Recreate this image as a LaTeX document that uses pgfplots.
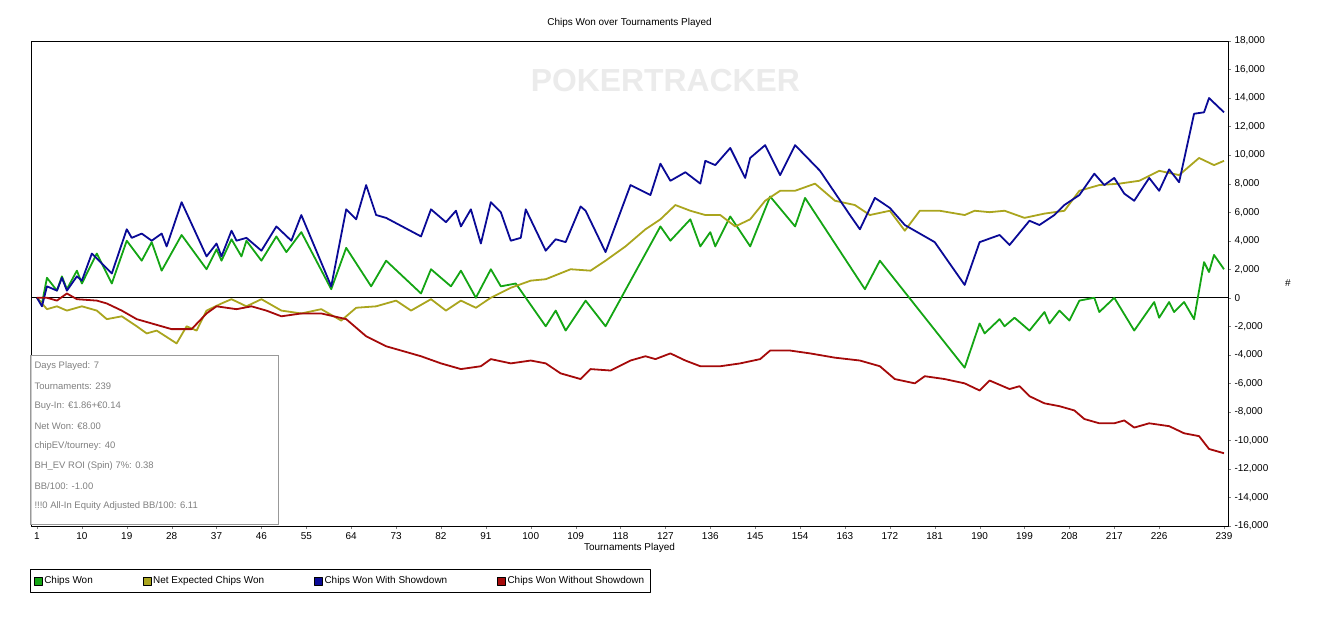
\documentclass[border=0pt]{standalone}
\usepackage{pgfplots}
\pgfplotsset{compat=1.18}
\usepackage{fontspec}
\setmainfont{Liberation Sans}
\definecolor{cgreen}{RGB}{20,165,20}
\definecolor{colive}{RGB}{170,165,30}
\definecolor{cblue}{RGB}{10,10,150}
\definecolor{cred}{RGB}{165,10,10}
\begin{document}
\begin{tikzpicture}
\path[use as bounding box] (-31bp,-91bp) rectangle (1294bp,526bp);
\begin{axis}[
 scale only axis, width=1197bp, height=485bp,
 xmin=-0.2, xmax=239.8, ymin=-16000, ymax=18000,
 xtick={1,10,...,226,239}, ytick={-16000,-14000,...,18000},
 yticklabel pos=right, ytick pos=right, xtick pos=bottom, scaled y ticks=false,
 /pgf/number format/assume math mode=true,
 /pgf/number format/1000 sep={,},
 tick label style={font=\fontsize{10}{12}\selectfont},
 tick align=outside, major tick length=3bp,
 xlabel={Tournaments Played}, xlabel style={font=\fontsize{10}{12}\selectfont, yshift=3bp},
 title={Chips Won over Tournaments Played}, title style={font=\fontsize{10}{12}\selectfont, yshift=4bp},
 legend style={at={(-0.001,-0.089)}, anchor=north west, legend columns=4, draw=black, font=\fontsize{10}{12}\selectfont, inner ysep=5bp, inner xsep=4bp, /tikz/every even column/.append style={column sep=48bp}},
 legend image code/.code={\filldraw[#1, draw=black, line width=0.3bp] (0bp,-4bp) rectangle (8bp,4bp);},
 line join=round,
]
\node[text=black!8, font=\bfseries\fontsize{32}{32}\selectfont] at (axis cs:127,15200) {POKERTRACKER};
\draw[black, line width=0.6bp] (axis cs:-0.2,0) -- (axis cs:239.8,0);
\addplot[cgreen, line width=1.8bp] coordinates {(1,0)(2,-400)(3,1400)(5,500)(6,1500)(7,600)(9,1900)(10,1000)(13,3100)(16,1000)(19,4000)(22,2600)(24,3900)(26,1900)(30,4400)(35,2000)(37,3400)(38,2600)(40,4100)(42,2900)(43,4000)(46,2600)(49,4300)(51,3200)(54,4600)(60,600)(63,3500)(68,800)(71,2600)(78,300)(80,2000)(84,800)(86,1900)(89,0)(92,2000)(94,800)(97,1000)(103,-2000)(105,-900)(107,-2300)(111,-200)(115,-2000)(126,5000)(128,4000)(132,5500)(134,3600)(136,4600)(137,3600)(140,5700)(144,3600)(148,7100)(153,5000)(155,7000)(167,600)(170,2600)(187,-4900)(190,-1800)(191,-2500)(194,-1500)(195,-2000)(197,-1400)(200,-2300)(203,-1000)(204,-1800)(206,-900)(208,-1600)(210,-200)(213,0)(214,-1000)(217,0)(221,-2300)(225,-300)(226,-1400)(228,-300)(229,-1000)(231,-300)(233,-1500)(235,2500)(236,1800)(237,3000)(239,2000)};
\addlegendentry{Chips Won}
\addplot[colive, line width=1.8bp] coordinates {(1,0)(3,-800)(5,-600)(7,-900)(10,-600)(13,-900)(15,-1500)(18,-1300)(21,-2000)(23,-2500)(25,-2300)(29,-3200)(31,-2000)(33,-2300)(35,-900)(38,-400)(40,-100)(43,-600)(46,-100)(50,-900)(54,-1100)(58,-800)(62,-1600)(65,-700)(69,-600)(73,-200)(76,-900)(80,-100)(83,-900)(86,-200)(89,-700)(92,0)(96,700)(100,1200)(103,1300)(108,2000)(112,1900)(115,2600)(119,3600)(123,4800)(126,5500)(129,6500)(132,6100)(135,5800)(138,5800)(141,5000)(144,5500)(147,6800)(150,7500)(153,7500)(157,8000)(161,6800)(165,6500)(168,5800)(172,6100)(175,4700)(178,6100)(182,6100)(187,5800)(189,6100)(192,6000)(195,6100)(199,5600)(203,5900)(207,6100)(210,7500)(214,7900)(218,8000)(222,8200)(226,8900)(230,8600)(234,9800)(237,9300)(239,9600)};
\addlegendentry{Net Expected Chips Won}
\addplot[cblue, line width=1.8bp] coordinates {(1,0)(2,-600)(3,800)(5,500)(6,1400)(7,500)(9,1500)(10,1200)(12,3100)(16,1700)(19,4800)(20,4200)(22,4500)(24,4000)(26,4500)(27,3600)(30,6700)(35,2900)(37,3800)(38,2900)(40,4700)(41,4000)(43,4200)(46,3300)(49,5000)(52,4000)(54,5800)(60,800)(63,6200)(65,5500)(67,7900)(69,5800)(71,5600)(78,4300)(80,6200)(83,5300)(85,6100)(86,5000)(88,6200)(90,3800)(92,6700)(94,6000)(96,4000)(98,4200)(99,6200)(103,3300)(105,4100)(107,3900)(110,6400)(111,6100)(115,3200)(120,7900)(124,7200)(126,9400)(128,8200)(131,8800)(134,8000)(135,9600)(137,9300)(140,10500)(143,8400)(144,9800)(147,10700)(150,8600)(153,10700)(158,8900)(164,5800)(166,4800)(169,7000)(172,6300)(175,5100)(181,3900)(187,900)(190,3900)(194,4400)(196,3700)(200,5400)(202,5100)(205,5800)(207,6500)(210,7200)(213,8700)(215,7900)(217,8400)(219,7300)(221,6800)(224,8400)(226,7500)(228,9000)(230,8100)(233,12900)(235,13000)(236,14000)(239,13000)};
\addlegendentry{Chips Won With Showdown}
\addplot[cred, line width=1.8bp] coordinates {(1,0)(3,0)(5,-200)(7,300)(9,-100)(13,-200)(15,-400)(18,-900)(21,-1500)(24,-1800)(28,-2200)(32,-2200)(35,-1100)(37,-600)(41,-800)(44,-600)(47,-900)(50,-1300)(54,-1100)(58,-1100)(63,-1500)(67,-2700)(71,-3400)(74,-3700)(78,-4100)(82,-4600)(86,-5000)(90,-4800)(92,-4300)(96,-4600)(100,-4400)(103,-4600)(106,-5300)(110,-5700)(112,-5000)(116,-5100)(120,-4400)(123,-4100)(125,-4300)(128,-3900)(131,-4400)(134,-4800)(138,-4800)(142,-4600)(146,-4300)(148,-3700)(152,-3700)(156,-3900)(161,-4200)(166,-4400)(170,-4800)(173,-5700)(177,-6000)(179,-5500)(183,-5700)(187,-6000)(190,-6500)(192,-5800)(196,-6400)(198,-6200)(200,-6900)(203,-7400)(206,-7600)(209,-7900)(211,-8500)(214,-8800)(217,-8800)(219,-8600)(221,-9100)(224,-8800)(228,-9000)(231,-9500)(234,-9700)(236,-10600)(239,-10900)};
\addlegendentry{Chips Won Without Showdown}
\end{axis}
\node[font=\fontsize{10}{12}\selectfont] at (1257bp,243bp) {\#};
\draw[black!40, fill=white, fill opacity=0.8] (-1bp,2bp) rectangle (247bp,171bp);
\foreach \t [count=\i] in {Days Played: 7,Tournaments: 239,Buy-In: €1.86+€0.14,Net Won: €8.00,chipEV/tourney: 40,BH\_EV ROI (Spin) 7\%: 0.38,BB/100: -1.00,!!!0 All-In Equity Adjusted BB/100: 6.11}
  \node[anchor=west, text=black!50, font=\fontsize{9.5}{11}\selectfont] at (0bp,{180bp-\i*20bp}) {\t};
\end{tikzpicture}
\end{document}
